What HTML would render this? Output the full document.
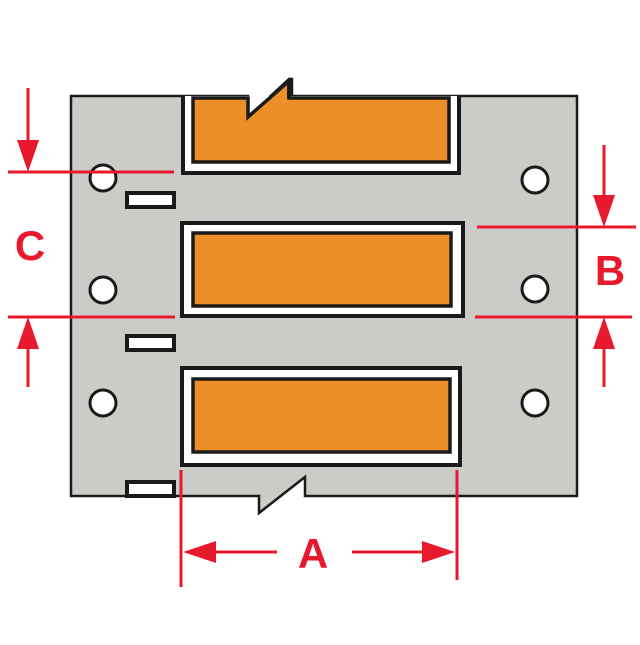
<!DOCTYPE html><html><head><style>body{margin:0;background:#fff}</style></head><body>
<svg width="640" height="640" viewBox="0 0 640 640" xmlns="http://www.w3.org/2000/svg">
<path d="M71,96 H248 V117 L289,79 H292 V96 H577 V496 H305 V477 L259,513 V496 H71 Z" fill="#cbccc7" stroke="#1a1a1a" stroke-width="2.5"/>
<path d="M183,96 V173 H459 V96" fill="#fff" stroke="#1a1a1a" stroke-width="4"/>
<path d="M193,98 H248 V117 L289,81 V98 H449 V162 H193 Z" fill="#ec8f28" stroke="#1a1a1a" stroke-width="3.5"/>
<path d="M289,79 V98" stroke="#1a1a1a" stroke-width="4"/>
<rect x="182" y="223" width="281" height="93" fill="#fff" stroke="#1a1a1a" stroke-width="4"/>
<rect x="193" y="233" width="258" height="73" fill="#ec8f28" stroke="#1a1a1a" stroke-width="3.5"/>
<rect x="182" y="368" width="278" height="97" fill="#fff" stroke="#1a1a1a" stroke-width="4"/>
<rect x="193" y="379" width="257" height="73" fill="#ec8f28" stroke="#1a1a1a" stroke-width="3.5"/>
<g fill="#fff" stroke="#1a1a1a" stroke-width="3">
<circle cx="103" cy="178" r="13"/><circle cx="103" cy="290" r="13"/><circle cx="103" cy="403" r="13"/>
<circle cx="535" cy="180" r="13"/><circle cx="535" cy="289" r="13"/><circle cx="535" cy="403" r="13"/>
</g>
<g fill="#fff" stroke="#1a1a1a" stroke-width="4">
<rect x="127" y="193" width="47" height="14"/><rect x="127" y="336" width="47" height="14"/><rect x="127" y="482" width="47" height="14"/>
</g>
<g stroke="#e8192c" stroke-width="3" fill="none">
<line x1="8" y1="172" x2="174" y2="172"/><line x1="8" y1="317" x2="175" y2="317"/>
<line x1="28" y1="88" x2="28" y2="150"/><line x1="28" y1="340" x2="28" y2="387"/>
<line x1="477" y1="227" x2="636" y2="227"/><line x1="475" y1="317" x2="632" y2="317"/>
<line x1="604" y1="145" x2="604" y2="205"/><line x1="604" y1="340" x2="604" y2="387"/>
<line x1="181" y1="470" x2="181" y2="587"/><line x1="457" y1="470" x2="457" y2="580"/>
<line x1="205" y1="552" x2="277" y2="552"/><line x1="352" y1="552" x2="435" y2="552"/>
</g>
<g fill="#e8192c">
<polygon points="17,140 39,140 28,172"/><polygon points="17,349 39,349 28,317"/>
<polygon points="593,195 615,195 604,227"/><polygon points="593,349 615,349 604,317"/>
<polygon points="183,552 216,541 216,563"/><polygon points="455,552 422,541 422,563"/>
</g>
<g fill="#e8192c" font-family="Liberation Sans, sans-serif" font-weight="bold" font-size="42" text-anchor="middle">
<text x="30" y="260">C</text><text x="610" y="285">B</text><text x="313" y="568">A</text>
</g>
</svg>
</body></html>
